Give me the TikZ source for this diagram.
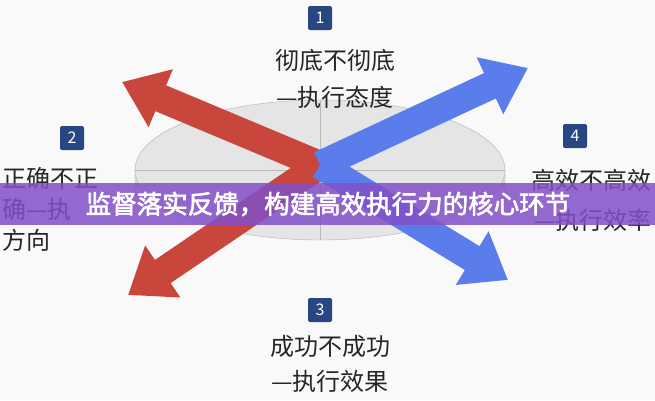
\documentclass[tikz,border=0pt]{standalone}
\usepackage{fontspec}
\newfontfamily\cjk{Noto Sans CJK SC}
\newfontfamily\cjkb[FakeBold=2.5]{Noto Sans CJK SC}
\usetikzlibrary{arrows.meta}
\definecolor{redA}{RGB}{200,70,60}
\definecolor{blueA}{RGB}{90,125,235}
\definecolor{numbox}{RGB}{40,70,130}
\definecolor{banner}{RGB}{130,80,200}
\tikzset{
  arr/.style={line width=28pt,-{Triangle[length=42pt 0 0,width=60pt 0 0]}},
  numb/.style={fill=numbox,text=white,rounded corners=2pt,minimum size=24pt,inner sep=0pt,font=\cjk\fontsize{16}{16}\selectfont},
  lab/.style={font=\cjk\fontsize{24}{24}\selectfont,text=black!85,inner sep=0pt},
}
\begin{document}
\begin{tikzpicture}[x=1pt,y=-1pt]
\useasboundingbox (0,0) rectangle (655,400);
\fill[white!95!gray] (0,0) rectangle (655,400);
% disk
\fill[gray!30,draw=gray!60] (135,170) -- (135,195) arc[start angle=180,end angle=360,x radius=185,y radius=65] -- (505,170) -- cycle;
\fill[gray!20,draw=gray!60] (320,170) ellipse[x radius=185,y radius=70];
\draw[gray!55] (320,100) -- (320,170) -- (505,170) (320,170)--(320,240) (135,170)--(320,170);
\coordinate (c) at (320,165);
\coordinate (t1) at (122,82);
\coordinate (t2) at (128,295);
\coordinate (t3) at (528,68);
\coordinate (t4) at (508,280);
\draw[arr,redA] (c) -- (t1);
\draw[arr,redA] (c) -- (t2);
\draw[arr,blueA] (c) -- (t3);
\draw[arr,blueA] (c) -- (t4);
% numbers
\node[numb] (n1) at (320,18) {1};
\node[numb] (n2) at (72,138) {2};
\node[numb] (n3) at (320,310) {3};
\node[numb] (n4) at (575,136) {4};
% labels
\node[lab] (l1a) at (335,60) {彻底不彻底};
\node[lab] (l1b) at (335,97) {—执行态度};
\node[lab,anchor=west] (l2a) at (2,178) {正确不正};
\node[lab,anchor=west] (l2b) at (2,209) {确—执};
\node[lab,anchor=west] (l2c) at (2,240) {方向};
\node[lab,anchor=east] (l4a) at (652,180) {高效不高效};
\node[lab,anchor=east] (l4b) at (652,220) {—执行效率};
\node[lab] (l3a) at (330,346) {成功不成功};
\node[lab] (l3b) at (330,381) {—执行效果};
% banner
\fill[banner,opacity=0.85] (0,183) rectangle (655,225);
\node[font=\cjkb\fontsize{25.5}{26}\selectfont,text=white] (bt) at (328,204) {监督落实反馈，构建高效执行力的核心环节};
\end{tikzpicture}
\end{document}
